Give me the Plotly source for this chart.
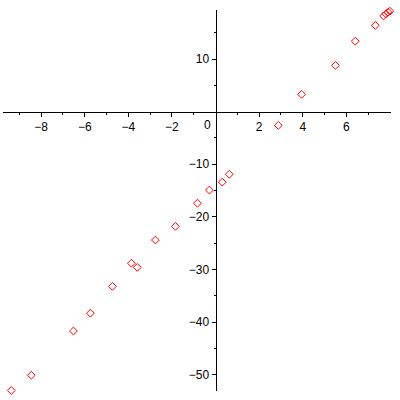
import plotly.graph_objects as go

x_vals = [-9.37, -8.45, -6.52, -5.74, -4.73, -3.86, -3.59, -2.76, -1.84, -0.83, -0.28,
          0.31, 0.63, 2.88, 3.95, 5.5, 6.41, 7.33, 7.71, 7.82, 7.91, 8.0]
y_vals = [-53.0, -50.1, -41.7, -38.3, -33.2, -28.8, -29.6, -24.4, -21.8, -17.4, -14.9,
          -13.4, -11.9, -2.6, 3.3, 8.8, 13.4, 16.4, 18.2, 18.6, 18.9, 19.1]

x_ticks = [-8, -6, -4, -2, 2, 4, 6]
y_ticks = [-50, -40, -30, -20, -10, 10]

x_range = [-9.75, 8.05]
y_range = [-53.1, 19.33]

fig = go.Figure()
fig.add_trace(go.Scatter(
    x=x_vals, y=y_vals, mode="markers",
    marker=dict(symbol="diamond-open", size=6, color="#ff0000", line=dict(width=1, color="#ff0000")),
    cliponaxis=False, showlegend=False,
))

xpos = (0 - y_range[0]) / (y_range[1] - y_range[0])
ypos = (0 - x_range[0]) / (x_range[1] - x_range[0])

font = dict(family="Liberation Sans, Arial, sans-serif", size=12, color="black")

fig.update_layout(
    width=400, height=400,
    margin=dict(l=3, r=9, t=10, b=9),
    plot_bgcolor="white", paper_bgcolor="white",
    font=font,
    xaxis=dict(range=x_range, anchor="free", position=xpos, showgrid=False, zeroline=False,
               showline=True, linecolor="black", linewidth=1,
               tickmode="array", tickvals=x_ticks, ticks="outside", ticklen=4,
               tickcolor="black", tickfont=font,
               minor=dict(tickvals=[-9, -7, -5, -3, -1, 1, 3, 5, 7], ticks="outside", ticklen=2, tickcolor="black")),
    yaxis=dict(range=y_range, anchor="free", position=ypos, showgrid=False, zeroline=False,
               showline=True, linecolor="black", linewidth=1,
               tickmode="array", tickvals=y_ticks, ticks="outside", ticklen=4,
               tickcolor="black", tickfont=font,
               minor=dict(tickvals=[-45, -35, -25, -15, -5, 5, 15], ticks="outside", ticklen=2, tickcolor="black")),
)

fig.add_annotation(x=0, y=0, xref="x", yref="y", text="0", showarrow=False,
                   xanchor="right", yanchor="top", xshift=-3, yshift=-4, font=font)

fig.write_html("out.html", config={"displayModeBar": False},
               post_script="document.body.style.margin='0';")
